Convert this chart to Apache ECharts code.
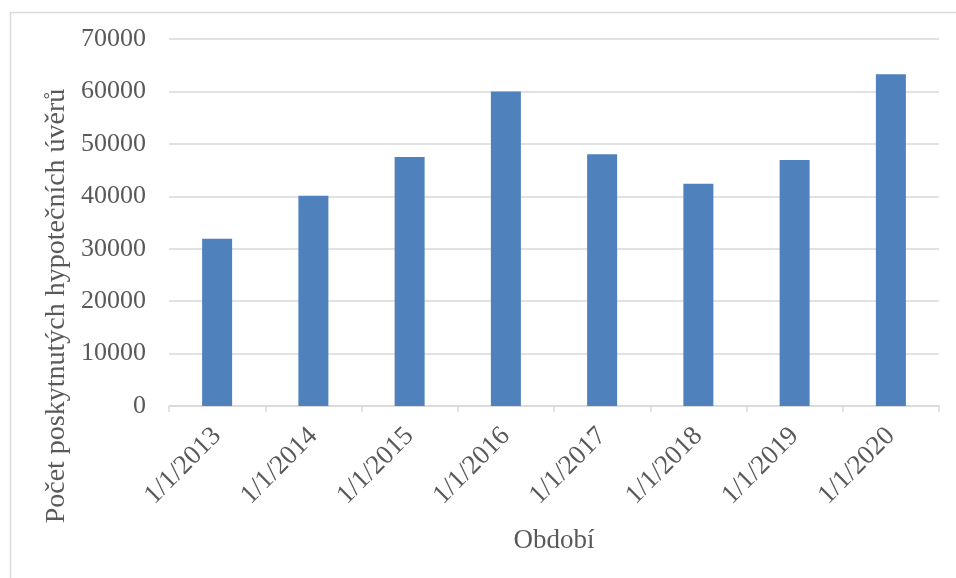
<!DOCTYPE html>
<html>
<head>
<meta charset="utf-8">
<script src="https://cdn.jsdelivr.net/npm/echarts@6/dist/echarts.min.js"></script>
<style>
  html, body { margin: 0; padding: 0; background: #ffffff; }
  #chart { width: 956px; height: 578px; }
</style>
</head>
<body>
<div id="chart"></div>
<script>
// Mortgage counts per year
var categories = ['1/1/2013', '1/1/2014', '1/1/2015', '1/1/2016', '1/1/2017', '1/1/2018', '1/1/2019', '1/1/2020'];
var loanCounts = [31900, 40100, 47500, 60000, 48000, 42400, 46900, 63300];
var yTicks = { min: 0, max: 70000, interval: 10000 };
var xTitle = 'Období';
var yTitle = 'Počet poskytnutých hypotečních úvěrů';

var FONT = '"Liberation Serif", serif';
var TEXT = '#595959';
var GRID = '#d9d9d9';

var chart = echarts.init(document.getElementById('chart'), null, { renderer: 'canvas' });

chart.setOption({
  backgroundColor: '#ffffff',
  animation: false,
  grid: { left: 169, right: 17, top: 39, bottom: 172, containLabel: false },
  graphic: [
    {
      type: 'rect',
      left: 8, top: 10,
      shape: { width: 960, height: 580 },
      style: { fill: 'none', stroke: '#d9d9d9', lineWidth: 1.5 },
      silent: true
    },
    {
      type: 'text',
      x: 57, y: 306,
      rotation: Math.PI / 2,
      style: {
        text: yTitle,
        font: '28px ' + FONT,
        fill: TEXT,
        align: 'center',
        verticalAlign: 'middle'
      }
    }
  ],
  xAxis: {
    type: 'category',
    data: categories,
    name: xTitle,
    nameLocation: 'middle',
    nameGap: 121,
    nameTextStyle: { fontFamily: FONT, fontSize: 27, color: TEXT },
    axisLine: { lineStyle: { color: GRID, width: 1.5 } },
    axisTick: { show: true, length: 6, lineStyle: { color: GRID, width: 1.5 } },
    axisLabel: {
      rotate: 45,
      margin: 26,
      fontFamily: FONT,
      fontSize: 27,
      color: TEXT
    }
  },
  yAxis: {
    type: 'value',
    min: yTicks.min,
    max: yTicks.max,
    interval: yTicks.interval,
    axisLine: { show: false },
    axisTick: { show: false },
    splitLine: { lineStyle: { color: GRID, width: 1.5 } },
    axisLabel: {
      margin: 23,
      fontFamily: FONT,
      fontSize: 26,
      color: TEXT,
      formatter: function (v) { return String(v); }
    }
  },
  series: [
    {
      type: 'bar',
      data: loanCounts,
      barWidth: 30,
      itemStyle: { color: '#4f81bd' }
    }
  ]
});
</script>
</body>
</html>
